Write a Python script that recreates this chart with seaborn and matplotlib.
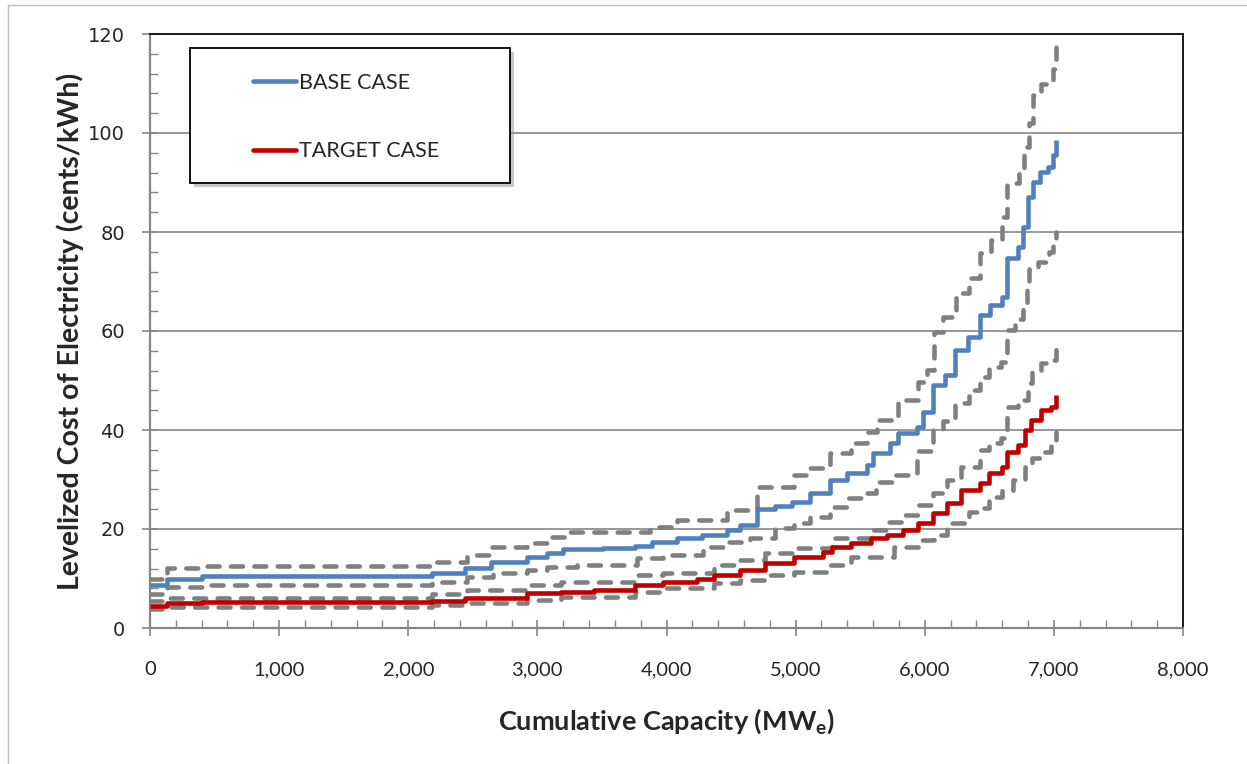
import matplotlib
matplotlib.use('Agg')
from matplotlib import pyplot as plt
from matplotlib.lines import Line2D
import matplotlib.patches as patches
import matplotlib.ticker as ticker
import seaborn as sns
import pandas as pd

# step curves (MWe, cents/kWh), drawn as steps-post
base_x = [0, 130, 400, 2185, 2440, 2640, 2920, 3075, 3200, 3510, 3755, 3890, 4080, 4275, 4470, 4570, 4700,
          4840, 4970, 5110, 5266, 5400, 5552, 5600, 5730, 5795, 5940, 5990, 6065, 6160, 6234, 6335, 6427,
          6505, 6600, 6636, 6722, 6760, 6800, 6838, 6892, 6954, 6990, 7020]
base_y = [8.7, 9.9, 10.5, 11.1, 12.2, 13.3, 14.3, 15.2, 15.9, 16.2, 16.5, 17.4, 18.1, 18.8, 19.8, 20.8, 24.0,
          24.6, 25.5, 27.3, 29.9, 31.3, 32.9, 35.3, 37.4, 39.4, 40.6, 43.6, 49.1, 51.1, 56.2, 58.8, 63.2,
          65.3, 66.9, 74.7, 77.0, 81.0, 87.1, 90.1, 92.1, 93.1, 95.5, 98.5]

base_hi_x = [0, 130, 400, 2185, 2455, 2635, 2920, 3100, 3255, 3875, 4080, 4470, 4700, 4985, 5115, 5270, 5425,
             5555, 5630, 5790, 5945, 6020, 6070, 6145, 6240, 6340, 6430, 6510, 6600, 6640, 6730, 6765, 6805,
             6835, 6900, 6960, 6995, 7020]
base_hi_y = [9.9, 12.1, 12.5, 13.3, 14.7, 16.4, 17.2, 18.4, 19.4, 20.4, 21.8, 23.8, 28.5, 30.9, 32.3, 35.3, 37.4,
             39.6, 42.0, 46.1, 49.7, 52.1, 59.8, 62.8, 67.7, 70.7, 75.7, 78.4, 83.0, 89.9, 92.5, 97.2, 102.0,
             107.7, 110.0, 110.7, 113.0, 119.5]

base_lo_x = [0, 130, 400, 2185, 2455, 2660, 2920, 3075, 3310, 3775, 3975, 4285, 4470, 4650, 4840, 4985, 5115,
             5270, 5400, 5552, 5620, 5760, 5940, 6065, 6145, 6234, 6340, 6430, 6495, 6590, 6640, 6700, 6760,
             6790, 6810, 6880, 6960, 6995, 7020]
base_lo_y = [6.8, 8.3, 8.7, 9.3, 10.3, 11.1, 11.7, 12.3, 12.7, 14.1, 14.7, 16.4, 17.4, 18.1, 20.2, 21.2, 22.4,
             24.4, 26.3, 27.3, 29.5, 30.9, 35.8, 40.3, 41.8, 45.5, 48.1, 50.7, 52.7, 53.7, 60.2, 62.5, 65.5,
             70.0, 72.5, 74.0, 76.0, 78.0, 80.0]

target_x = [0, 130, 400, 2185, 2440, 2920, 3180, 3435, 3755, 3975, 4240, 4365, 4570, 4765, 4985, 5215, 5285,
            5425, 5580, 5710, 5835, 5945, 6065, 6175, 6280, 6430, 6495, 6600, 6640, 6720, 6780, 6820, 6900,
            6975, 7020]
target_y = [4.4, 5.0, 5.2, 5.5, 6.0, 7.0, 7.3, 7.7, 8.7, 9.2, 9.8, 10.7, 11.7, 13.1, 14.4, 15.4, 16.4,
            17.2, 18.2, 18.8, 19.8, 21.2, 23.3, 25.2, 27.9, 29.3, 31.3, 32.5, 35.6, 37.0, 40.0, 42.0, 44.0,
            44.6, 47.0]

target_hi_x = [0, 130, 2185, 2455, 2920, 3180, 3755, 3975, 4365, 4570, 4765, 4985, 5285, 5580, 5710, 5835,
               5945, 6065, 6175, 6280, 6430, 6495, 6590, 6640, 6720, 6800, 6830, 6900, 6975, 7020]
target_hi_y = [5.5, 6.1, 6.9, 7.6, 8.7, 9.2, 10.7, 11.1, 12.7, 13.7, 15.1, 16.2, 18.2, 19.8, 21.4, 22.8,
               24.8, 27.3, 29.9, 32.5, 36.0, 37.4, 38.4, 44.6, 46.0, 49.5, 52.1, 53.5, 54.2, 57.0]

target_lo_x = [0, 130, 2185, 2440, 2920, 3180, 3755, 3975, 4365, 4570, 4765, 4985, 5240, 5425, 5760, 5945,
               6070, 6170, 6340, 6430, 6495, 6600, 6680, 6780, 6830, 6900, 6975, 7020]
target_lo_y = [3.8, 4.3, 4.6, 5.0, 5.7, 6.3, 7.3, 8.1, 9.1, 9.7, 10.7, 11.3, 12.7, 14.3, 16.4, 17.8,
               18.8, 21.2, 23.4, 24.2, 26.5, 27.9, 29.9, 32.5, 34.3, 35.6, 37.0, 39.5]

legend_labels = ['BASE CASE', 'TARGET CASE']
x_ticks = [0, 1000, 2000, 3000, 4000, 5000, 6000, 7000, 8000]
y_ticks = [0, 20, 40, 60, 80, 100, 120]

BLUE = '#4F81BD'
RED = '#C00000'
GRAY = '#808080'
AXIS_GRAY = '#868686'

sns.set_style('white')
plt.rcParams['font.family'] = ['Lato', 'DejaVu Sans']

fig = plt.figure(figsize=(12.47, 7.64), dpi=100)
ax = fig.add_axes([150 / 1247, 1 - 628 / 764, 1033 / 1247, 594 / 764])


def step_line(x, y, color, lw, dashed=False, zorder=2):
    df = pd.DataFrame({'x': x, 'y': y})
    sns.lineplot(data=df, x='x', y='y', ax=ax, color=color, linewidth=lw, estimator=None,
                 sort=False, drawstyle='steps-post', zorder=zorder)
    line = ax.get_lines()[-1]
    if dashed:
        line.set_linestyle((0, (2.6, 2.5)))
        line.set_dash_capstyle('round')
    else:
        line.set_solid_capstyle('butt')
    return line


for xs, ys in [(base_hi_x, base_hi_y), (base_lo_x, base_lo_y),
               (target_hi_x, target_hi_y), (target_lo_x, target_lo_y)]:
    step_line(xs, ys, GRAY, 3.3, dashed=True, zorder=2)
step_line(base_x, base_y, BLUE, 3.3, zorder=3)
step_line(target_x, target_y, RED, 3.3, zorder=3)

ax.set_xlim(0, 8000)
ax.set_ylim(0, 120)
ax.set_xticks(x_ticks)
ax.set_yticks(y_ticks)
ax.xaxis.set_minor_locator(ticker.MultipleLocator(200))
ax.yaxis.set_minor_locator(ticker.MultipleLocator(4))
ax.set_xticklabels(['{:,}'.format(v) for v in x_ticks], fontsize=14.5, family=['Lato'])
ax.set_yticklabels([str(v) for v in y_ticks], fontsize=14, family=['DejaVu Sans'])

ax.tick_params(axis='both', which='major', direction='inout', length=12, width=1.2, color=AXIS_GRAY)
ax.tick_params(axis='y', which='major', pad=12)
ax.tick_params(axis='x', which='major', pad=18)
ax.tick_params(axis='both', which='minor', direction='in', length=6, width=1.0, color=AXIS_GRAY)
ax.tick_params(axis='both', which='both', bottom=True, left=True, top=False, right=False)

ax.grid(axis='y', which='major', color=AXIS_GRAY, linewidth=1.2)
ax.grid(axis='x', visible=False)
ax.set_axisbelow(True)

for side in ['left', 'bottom']:
    ax.spines[side].set_color(AXIS_GRAY)
    ax.spines[side].set_linewidth(1.6)
for side in ['top', 'right']:
    ax.spines[side].set_color('#1a1a1a')
    ax.spines[side].set_linewidth(1.4)

ax.set_xlabel(r'Cumulative Capacity (MW$_\mathregular{e}$)', fontsize=19.5, fontweight='bold', labelpad=20)
ax.set_ylabel('Levelized Cost of Electricity (cents/kWh)', fontsize=20.5, fontweight='bold', labelpad=3)

# legend box with a soft shadow
x0, x1 = 40 / 1033, 360 / 1033
y0, y1 = (628 - 183) / 594, (628 - 48) / 594
shadow = patches.Rectangle((x0 + 0.004, y0 - 0.007), x1 - x0, y1 - y0, transform=ax.transAxes,
                           facecolor='#999999', edgecolor='none', alpha=0.55, zorder=5)
box = patches.Rectangle((x0, y0), x1 - x0, y1 - y0, transform=ax.transAxes,
                        facecolor='white', edgecolor='black', linewidth=1.3, zorder=6)
ax.add_patch(shadow)
ax.add_patch(box)

handles = [Line2D([0], [0], color=BLUE, linewidth=3.3, solid_capstyle='round'),
           Line2D([0], [0], color=RED, linewidth=3.3, solid_capstyle='round')]
leg = ax.legend(handles, legend_labels, loc='upper left', bbox_to_anchor=(103 / 1033, (628 - 73) / 594),
                frameon=False, fontsize=15.5, handlelength=2.0, handletextpad=0.15, labelspacing=2.25,
                borderpad=0, borderaxespad=0)
leg.set_zorder(7)

# thin outer border of the chart area
fig.add_artist(Line2D([8 / 1247, 8 / 1247], [0, 1 - 5 / 764], color='#BFBFBF', linewidth=1.0))
fig.add_artist(Line2D([8 / 1247, 1], [1 - 5 / 764, 1 - 5 / 764], color='#BFBFBF', linewidth=1.0))

fig.savefig('out.png', dpi=100)
